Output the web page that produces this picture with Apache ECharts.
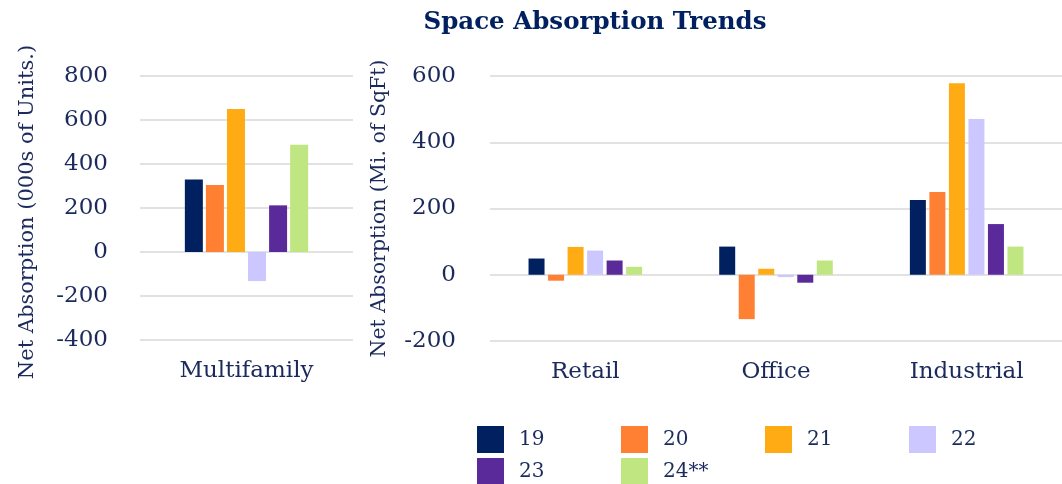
<!DOCTYPE html>
<html>
<head>
<meta charset="utf-8">
<script src="https://cdn.jsdelivr.net/npm/echarts@6/dist/echarts.min.js"></script>
<style>
  html, body { margin: 0; padding: 0; background: #fff; }
  #chart { width: 1062px; height: 484px; }
</style>
</head>
<body>
<div id="chart"></div>
<script>
const years = ['19', '20', '21', '22', '23', '24**']
const colors = ['#002060', '#FF8033', '#FFAB14', '#CCC8FF', '#5B2A9A', '#C0E682']

// left panel: thousands of units
const leftCategories = ['Multifamily']
const multifamily = [330, 305, 650, -132, 212, 487]

// right panel: millions of sq ft, one array per year (Retail, Office, Industrial)
const rightCategories = ['Retail', 'Office', 'Industrial']
const y19 = [49, 85, 226]
const y20 = [-18, -134, 250]
const y21 = [84, 18, 578]
const y22 = [73, -7, 470]
const y23 = [43, -24, 153]
const y24 = [24, 43, 85]
const rightValues = [y19, y20, y21, y22, y23, y24]

const navy = '#1B2A5C'
const font = 'DejaVu Serif'
const gridLine = '#D9D9D9'

const chart = echarts.init(document.getElementById('chart'))

const series = []
years.forEach((name, i) => {
  series.push({
    name,
    type: 'bar',
    xAxisIndex: 0,
    yAxisIndex: 0,
    data: [multifamily[i]],
    barWidth: 18,
    barGap: '17%',
    itemStyle: { color: colors[i] }
  })
})
years.forEach((name, i) => {
  series.push({
    name,
    type: 'bar',
    xAxisIndex: 1,
    yAxisIndex: 1,
    data: rightValues[i],
    barWidth: 16,
    barGap: '22%',
    itemStyle: { color: colors[i] }
  })
})

// legend laid out as a 4-column grid, one entry each
const legendCols = [477, 621, 765, 909]
const legend = years.map((name, i) => ({
  data: [name],
  left: legendCols[i % 4],
  top: i < 4 ? 426 : 458,
  padding: 0,
  itemWidth: 27,
  itemHeight: 27,
  icon: 'rect',
  selectedMode: false,
  textStyle: { fontFamily: font, fontSize: 20, color: navy, padding: [0, 0, 0, 10] }
}))

const yLabel = { fontFamily: font, fontSize: 23, color: navy }
const xLabel = { fontFamily: font, fontSize: 23, color: navy, margin: 20 }

const option = {
  animation: false,
  title: {
    text: 'Space Absorption Trends',
    left: 590,
    top: 5,
    textAlign: 'center',
    textStyle: { fontFamily: font, fontSize: 24.5, fontWeight: 'bold', color: '#002060' }
  },
  legend,
  grid: [
    { left: 140, width: 213, top: 76, height: 264 },
    { left: 490, width: 582, top: 76, height: 265 }
  ],
  xAxis: [
    {
      type: 'category', gridIndex: 0, data: leftCategories,
      axisLine: { show: false }, axisTick: { show: false },
      axisLabel: xLabel
    },
    {
      type: 'category', gridIndex: 1, data: rightCategories,
      axisLine: { show: false }, axisTick: { show: false },
      axisLabel: xLabel
    }
  ],
  yAxis: [
    {
      type: 'value', gridIndex: 0, min: -400, max: 800, interval: 200,
      name: 'Net Absorption (000s of Units.)',
      nameLocation: 'middle', nameGap: 102,
      nameTextStyle: { fontFamily: font, fontSize: 21, color: navy, padding: [0, 8, 0, 0] },
      axisLabel: Object.assign({ margin: 32 }, yLabel),
      splitLine: { lineStyle: { color: gridLine, width: 1.5 } }
    },
    {
      type: 'value', gridIndex: 1, min: -200, max: 600, interval: 200,
      name: 'Net Absorption (Mi. of SqFt)',
      nameLocation: 'middle', nameGap: 100,
      nameTextStyle: { fontFamily: font, fontSize: 20.5, color: navy },
      axisLabel: Object.assign({ margin: 34 }, yLabel),
      splitLine: { lineStyle: { color: gridLine, width: 1.5 } }
    }
  ],
  series
}

chart.setOption(option)
</script>
</body>
</html>
